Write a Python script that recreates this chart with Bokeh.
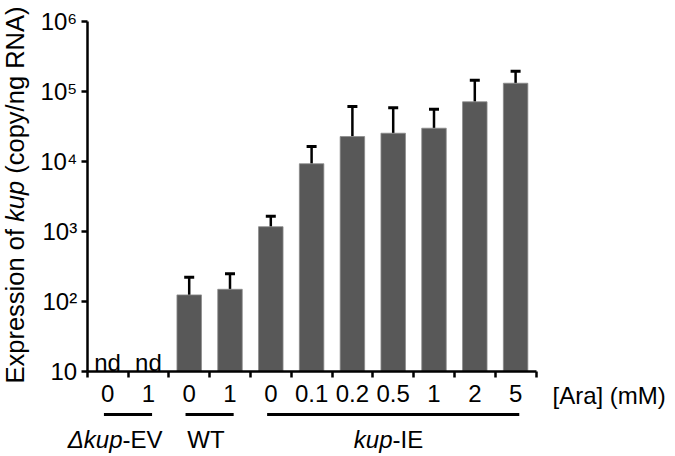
import math
from bokeh.plotting import figure
from bokeh.models import (ColumnDataSource, FixedTicker, Range1d, Whisker, TeeHead,
                          Label, Arrow)
from bokeh.core.properties import value
from bokeh.embed import file_html
from bokeh.resources import INLINE

# ---------------- data ----------------
ara_labels = ["0", "1", "0", "1", "0", "0.1", "0.2", "0.5", "1", "2", "5"]
expression = [None, None, 123, 148, 1160, 9200, 22500, 25100, 29600, 70600, 130000]
error_upper = [None, None, 220, 246, 1640, 16200, 60400, 57900, 55300, 143600, 193000]
nd_flags = [True, True, False, False, False, False, False, False, False, False, False]
group_italic = ["\u0394kup", "", "kup"]
group_plain = ["-EV", "WT", "-IE"]
group_first = [0, 2, 4]
group_last = [1, 3, 10]
y_ticks = [10, 100, 1000, 10000, 100000, 1000000]
y_tick_labels = ["10", "10\u00b2", "10\u00b3", "10\u2074", "10\u2075", "10\u2076"]

FONT = "Liberation Sans"
n = len(ara_labels)
centers = [i + 0.5 for i in range(n)]

bar_x = [c for c, v in zip(centers, expression) if v is not None]
bar_top = [v for v in expression if v is not None]
bar_err = [e for e in error_upper if e is not None]
src = ColumnDataSource(dict(x=bar_x, top=bar_top, upper=bar_err))

# The frame fills the whole canvas; axes are pinned at data positions so that
# the texts below / left of the axes are drawn inside the frame.
W, H = 675, 456
X0, XU = 86.7, 40.8          # pixel of x=0, pixels per category
Y10, DEC = 370.7, 70.0       # pixel of y=10, pixels per decade
x_lo, x_hi = (0 - X0) / XU, (W - X0) / XU
y_lo, y_hi = 10 ** (1 + (Y10 - H) / DEC), 10 ** (1 + Y10 / DEC)


def px_to_x(px):
    return (px - X0) / XU


def py_to_y(py):
    return 10 ** (1 + (Y10 - py) / DEC)


p = figure(width=W, height=H, output_backend="svg", toolbar_location=None,
           x_range=Range1d(x_lo, x_hi), y_range=Range1d(y_lo, y_hi),
           y_axis_type="log", min_border=0)
p.outline_line_color = None
p.xgrid.visible = False
p.ygrid.visible = False
p.background_fill_color = "white"
p.border_fill_color = "white"

p.vbar(x="x", top="top", bottom=10, width=0.6, source=src,
       fill_color="#585858", line_color="#8a8a8a", line_width=0.8)

whisk = Whisker(base="x", lower="top", upper="upper", source=src,
                line_color="black", line_width=2.5, lower_head=None,
                upper_head=TeeHead(size=10, line_width=3, line_color="black"))
p.add_layout(whisk)

# nd labels
nd_x = [c for c, f in zip(centers, nd_flags) if f]
p.text(x=nd_x, y=[py_to_y(362)] * len(nd_x), text=["nd"] * len(nd_x),
       text_font=value(FONT), text_font_size="24px", text_align="center",
       text_baseline="alphabetic", text_color="black")

# x axis
xa = p.xaxis[0]
xa.fixed_location = 10
xa.bounds = (0, n)
xa.ticker = FixedTicker(ticks=centers, minor_ticks=list(range(n + 1)))
xa.major_label_overrides = {c: lab for c, lab in zip(centers, ara_labels)}
xa.major_tick_out = 0
xa.major_tick_in = 0
xa.minor_tick_out = 6
xa.minor_tick_in = 0
xa.minor_tick_line_width = 2.5
xa.minor_tick_line_color = "black"
xa.axis_line_width = 2.5
xa.axis_line_color = "black"
xa.major_label_text_font = FONT
xa.major_label_text_font_size = "24px"
xa.major_label_text_color = "black"
xa.major_label_standoff = 8

# y axis
ya = p.yaxis[0]
ya.fixed_location = 0
ya.bounds = (10, 1e6)
ya.ticker = FixedTicker(ticks=y_ticks, minor_ticks=[])
ya.major_label_overrides = {t: lab for t, lab in zip(y_ticks, y_tick_labels)}
ya.major_tick_out = 6
ya.major_tick_in = 0
ya.major_tick_line_width = 2.5
ya.major_tick_line_color = "black"
ya.axis_line_width = 2.5
ya.axis_line_color = "black"
ya.major_label_text_font = FONT
ya.major_label_text_font_size = "24px"
ya.major_label_text_color = "black"
ya.major_label_standoff = 4

# [Ara] (mM) label to the right of the axis
p.add_layout(Label(x=px_to_x(552), y=py_to_y(395), text="[Ara] (mM)", text_font=FONT,
                   text_font_size="24px", text_align="left",
                   text_baseline="alphabetic", text_color="black"))

# group underlines and names
y_line = py_to_y(414)
y_name = py_to_y(439)
for f, l in zip(group_first, group_last):
    p.add_layout(Arrow(start=None, end=None, x_start=centers[f] - 0.09, y_start=y_line,
                       x_end=centers[l] + 0.09, y_end=y_line,
                       line_width=3, line_color="black"))
junctions = [px_to_x(122), px_to_x(205.5), px_to_x(392)]
for it, pl, xj in zip(group_italic, group_plain, junctions):
    if it:
        p.add_layout(Label(x=xj, y=y_name, text=it, text_font=FONT,
                           text_font_style="italic", text_font_size="24px",
                           text_align="right", text_baseline="alphabetic",
                           text_color="black"))
        p.add_layout(Label(x=xj, y=y_name, text=pl, text_font=FONT,
                           text_font_size="24px", text_align="left",
                           text_baseline="alphabetic", text_color="black"))
    else:
        p.add_layout(Label(x=xj, y=y_name, text=pl, text_font=FONT,
                           text_font_size="24px", text_align="center",
                           text_baseline="alphabetic", text_color="black"))

# y axis title (mixed italic) built from rotated pieces, reading upward
YL_SIZE = 25.5
ylab_parts = ["Expression of\u00a0", "kup", "\u00a0(copy/ng RNA)"]
ylab_styles = ["normal", "italic", "normal"]
ylab_em = [6.336, 1.612, 6.835]          # Arial-metric advance widths in em
start_py = 383.0
for txt, st, em in zip(ylab_parts, ylab_styles, ylab_em):
    p.add_layout(Label(x=px_to_x(14), y=py_to_y(start_py), text=txt, angle=math.pi / 2,
                       text_font=FONT, text_font_style=st,
                       text_font_size=f"{YL_SIZE}px",
                       text_align="left", text_baseline="alphabetic",
                       text_color="black"))
    start_py -= em * YL_SIZE

open("out.html", "w").write(file_html(p, INLINE))
